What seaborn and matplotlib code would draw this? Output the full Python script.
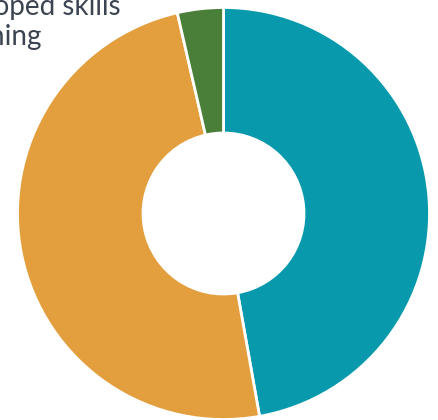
import matplotlib
matplotlib.use("Agg")
import matplotlib.pyplot as plt
import seaborn as sns

labels = ["Developed skills", "Learning", "Other"]
values = [49.2, 3.6, 47.2]  # orange, green, teal
colors = ["#e39f3d", "#4a7f3a", "#0899ad"]

sns.set_theme(style="white")
plt.rcParams['font.family'] = ['Lato', 'DejaVu Sans']

R = 206.0
cx, cy = 223.5, 213.5
fig = plt.figure(figsize=(4.39, 4.20), dpi=100)
ax = fig.add_axes([0, 0, 1, 1])
order_vals = [values[2], values[0], values[1]]
order_cols = [colors[2], colors[0], colors[1]]
ax.pie(order_vals, colors=order_cols, startangle=90, counterclock=False,
       radius=1.0, wedgeprops=dict(width=1 - 80.5 / R, edgecolor="white", linewidth=2))
ax.set_xlim(-cx / R, (439 - cx) / R)
ax.set_ylim(-(420 - cy) / R, cy / R)
ax.set_aspect("equal")
ax.axis("off")

txt_color = "#3d4451"
fig.text(121 / 439, 1 - 15 / 420, labels[0], ha="right", va="baseline", fontsize=20, color=txt_color)
fig.text(42 / 439, 1 - 45 / 420, labels[1], ha="right", va="baseline", fontsize=20, color=txt_color)

fig.savefig("out.png", dpi=100)
